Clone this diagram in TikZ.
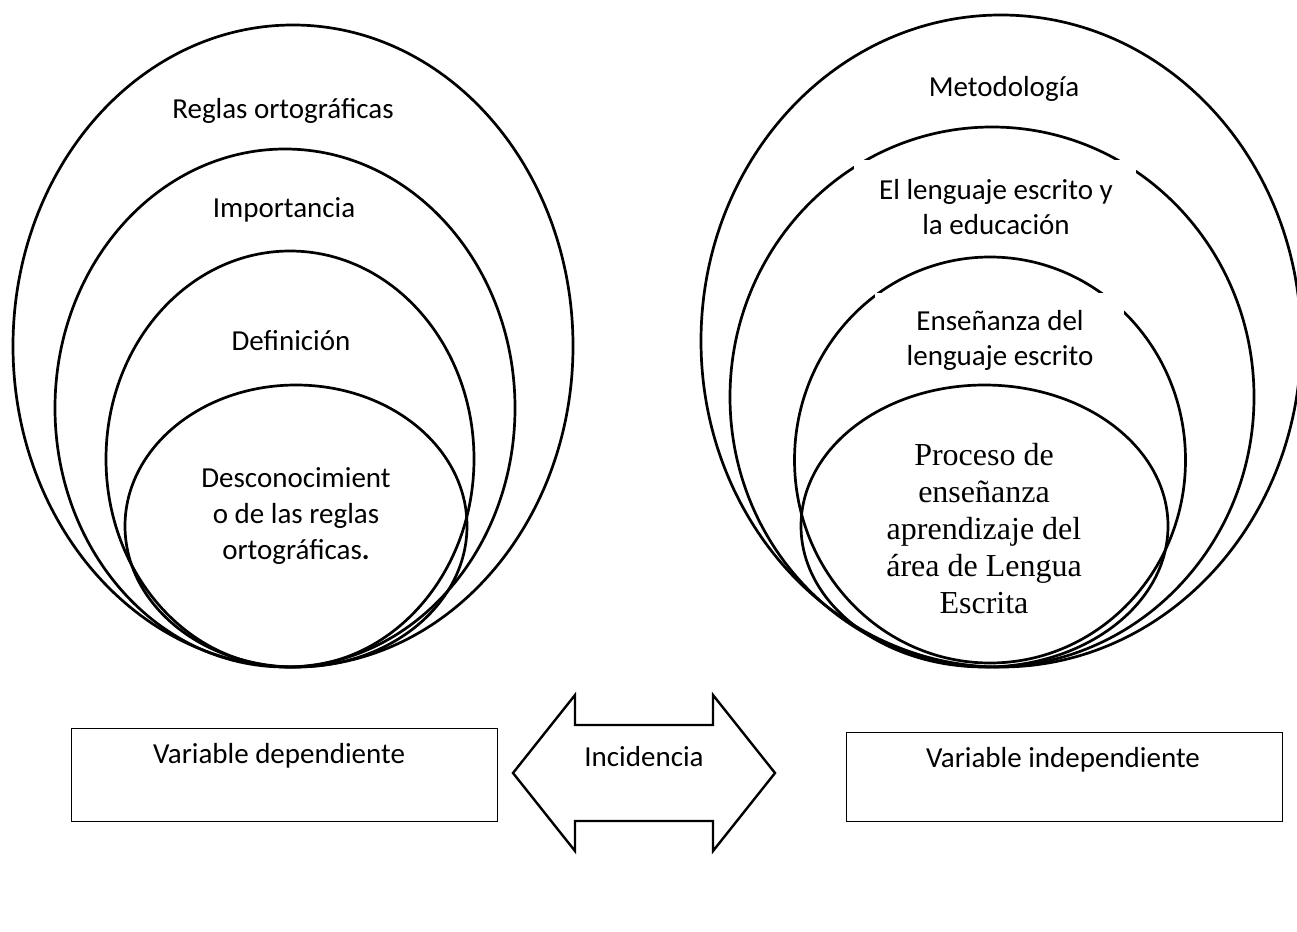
\documentclass[tikz,border=0pt]{standalone}
\usepackage{fontspec}
\setmainfont{Carlito}
\newfontfamily\timesf{Liberation Serif}
\usetikzlibrary{shapes.geometric}
\begin{document}
\begin{tikzpicture}[x=1pt,y=-1pt,
  ring/.style={draw, ellipse, line width=2.7pt, inner sep=0pt, outer sep=0pt},
  lbl/.style={anchor=base, inner sep=0pt, font=\fontsize{29}{36}\selectfont},
  serif/.style={anchor=base, inner sep=0pt, font=\timesf\fontsize{32}{37}\selectfont},
  cover/.style={fill=white, inner sep=0pt, anchor=north west},
  varbox/.style={draw, line width=1.3pt, inner sep=0pt, anchor=north west},
  shape arrow/.style={draw, line width=2.4pt, line join=miter}]
\useasboundingbox (0,0) rectangle (1297,931);
\clip (0,0) rectangle (1297,931);

% left group
\node[ring, minimum width=560pt, minimum height=642pt] (L1) at (293,346) {};
\node[ring, minimum width=460pt, minimum height=518pt] (L2) at (285,408) {};
\node[ring, minimum width=368pt, minimum height=416pt] (L3) at (290,459) {};
\node[ring, minimum width=342pt, minimum height=282pt] (L4) at (296,526) {};

\node[lbl] (tL1) at (283,119) {Reglas ortográficas};
\node[lbl] (tL2) at (284,217) {Importancia};
\node[lbl] (tL3) at (291,350) {Definición};
\node[lbl] (tL4) at (296,487) {\begin{tabular}[t]{@{}c@{}}Desconocimient\\o de las reglas\\ortográficas\textbf{.}\end{tabular}};

% right group
\node[ring, minimum width=600pt, minimum height=652pt] (R1) at (1001,341) {};
\node[ring, minimum width=524pt, minimum height=540pt] (R2) at (992,397) {};
\node[ring, minimum width=391pt, minimum height=406pt] (R3) at (990,460) {};
\node[ring, minimum width=367pt, minimum height=282pt] (R4) at (984.5,526) {};

\node[lbl] (tR1) at (1004,97) {Metodología};

\node[cover, minimum width=282pt, minimum height=92pt] (cR2) at (854,160) {};
\node[lbl] (tR2) at (996,199) {\fontsize{29}{35}\selectfont\begin{tabular}[t]{@{}c@{}}El lenguaje escrito y\\la educación\end{tabular}};

\node[cover, minimum width=249pt, minimum height=76pt] (cR3) at (875,293) {};
\begin{scope}
  \clip (cR3.north west) rectangle (cR3.south east);
  \node[lbl] (tR3) at (1000,330) {\fontsize{29}{35}\selectfont\begin{tabular}[t]{@{}c@{}}Enseñanza del\\lenguaje escrito\end{tabular}};
\end{scope}

\node[serif] (tR4) at (984,465) {\begin{tabular}[t]{@{}c@{}}Proceso de\\enseñanza\\aprendizaje del\\área de Lengua\\Escrita\end{tabular}};

% bottom
\node[varbox, minimum width=426pt, minimum height=93pt] (vd) at (71,728) {};
\node[lbl] (tvd) at (279,763) {Variable dependiente};

\node[varbox, minimum width=436pt, minimum height=89pt] (vi) at (846,732) {};
\node[lbl] (tvi) at (1063,767) {Variable independiente};

\coordinate (aL) at (513,773);
\coordinate (aR) at (775,773);
\draw[shape arrow] (aL) -- (575,695) -- (575,725) -- (713,725) -- (713,695) -- (aR)
  -- (713,851) -- (713,821) -- (575,821) -- (575,851) -- cycle;
\node[lbl] (inc) at (644,766) {Incidencia};
\end{tikzpicture}
\end{document}
